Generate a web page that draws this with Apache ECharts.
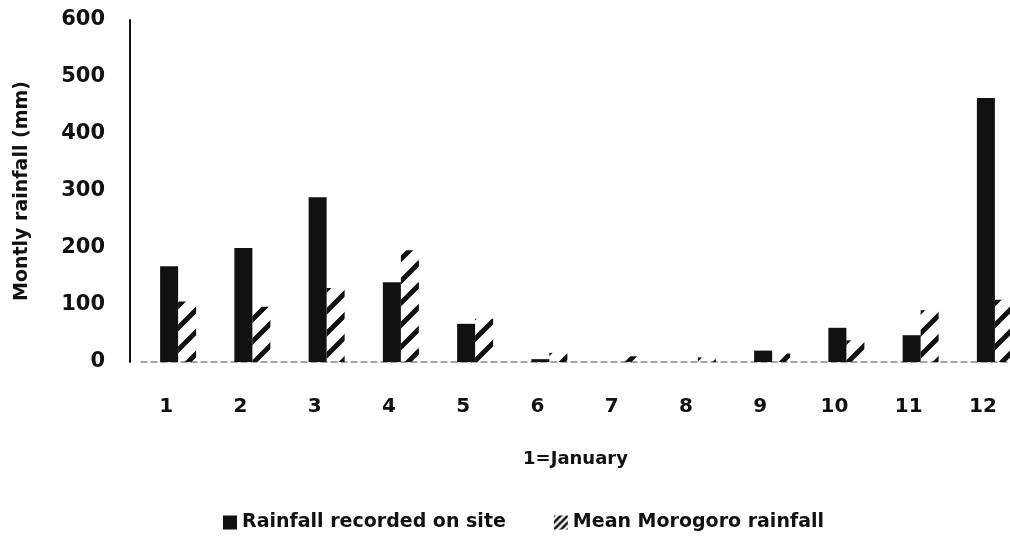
<!DOCTYPE html>
<html>
<head>
<meta charset="utf-8">
<script src="https://cdn.jsdelivr.net/npm/echarts@6/dist/echarts.min.js"></script>
<style>
html,body{margin:0;padding:0;background:#fff;}
#chart{width:1010px;height:544px;}
</style>
</head>
<body>
<div id="chart"></div>
<script>
const months = ['1','2','3','4','5','6','7','8','9','10','11','12'];
const siteRainfall = [168, 200, 289, 140, 67, 5, 0, 0, 20, 60, 47, 463];
const meanMorogoro = [106, 97, 130, 196, 76, 16, 10, 8, 15, 38, 91, 109];
const yTicks = [0, 100, 200, 300, 400, 500, 600];
const seriesNames = ['Rainfall recorded on site', 'Mean Morogoro rainfall'];

function makeHatch() {
  const s = 22;
  const c = document.createElement('canvas');
  c.width = s; c.height = s;
  const g = c.getContext('2d');
  g.strokeStyle = '#111';
  g.lineWidth = 5;
  g.lineCap = 'butt';
  for (let k = -1; k <= 1; k++) {
    g.beginPath();
    g.moveTo(k * s - 2, s + 2);
    g.lineTo(k * s + s + 2, -2);
    g.stroke();
  }
  return c;
}
function makeLegendHatch() {
  const s = 7;
  const c = document.createElement('canvas');
  c.width = s; c.height = s;
  const g = c.getContext('2d');
  g.strokeStyle = '#111';
  g.lineWidth = 2.6;
  for (let k = -1; k <= 1; k++) {
    g.beginPath();
    g.moveTo(k * s - 1, s + 1);
    g.lineTo(k * s + s + 1, -1);
    g.stroke();
  }
  return c;
}
const hatch = { image: makeHatch(), repeat: 'repeat' };
const legendHatch = { image: makeLegendHatch(), repeat: 'repeat' };

const font = '"DejaVu Sans", sans-serif';
const chart = echarts.init(document.getElementById('chart'));
chart.setOption({
  backgroundColor: '#fff',
  animation: false,
  textStyle: { fontFamily: font, fontWeight: 'bold', color: '#111' },
  grid: { left: 141, top: 20, width: 891, bottom: 182, containLabel: false, outerBoundsMode: 'none' },
  legend: {
    bottom: 7,
    left: 218,
    itemWidth: 14,
    itemHeight: 14,
    itemGap: 48,
    icon: 'rect',
    textStyle: { fontFamily: font, fontWeight: 'bold', fontSize: 19, color: '#111' },
    data: [
      { name: seriesNames[0] },
      { name: seriesNames[1], itemStyle: { color: legendHatch } }
    ]
  },
  xAxis: {
    type: 'category',
    data: months,
    name: '1=January',
    nameLocation: 'middle',
    nameGap: 88,
    nameTextStyle: { fontFamily: font, fontWeight: 'bold', fontSize: 18, color: '#111', padding: [0, 22, 0, 0] },
    axisLine: { show: true, lineStyle: { color: '#888', type: [6, 4], width: 1.5 } },
    axisTick: { show: false },
    axisLabel: { margin: 35, fontFamily: font, fontWeight: 'bold', fontSize: 20, color: '#111', padding: [0, 24, 0, 0] },
    splitLine: { show: false }
  },
  yAxis: {
    type: 'value',
    min: 0, max: 600, interval: 100,
    offset: 11,
    name: 'Montly rainfall (mm)',
    nameLocation: 'middle',
    nameRotate: 90,
    nameGap: 98,
    nameTextStyle: { fontFamily: font, fontWeight: 'bold', fontSize: 19, color: '#111' },
    axisLine: { show: true, lineStyle: { color: '#111', width: 2 } },
    axisTick: { show: false },
    splitLine: { show: false },
    axisLabel: {
      margin: 25, fontFamily: font, fontWeight: 'bold', fontSize: 21, color: '#111',
      formatter: v => yTicks.includes(v) ? String(v) : ''
    }
  },
  series: [
    {
      name: seriesNames[0], type: 'bar', data: siteRainfall,
      barWidth: 18, barGap: '0%',
      itemStyle: { color: '#111' }
    },
    {
      name: seriesNames[1], type: 'bar', data: meanMorogoro,
      barWidth: 18, barGap: '0%',
      itemStyle: { color: hatch }
    }
  ]
});
</script>
</body>
</html>
